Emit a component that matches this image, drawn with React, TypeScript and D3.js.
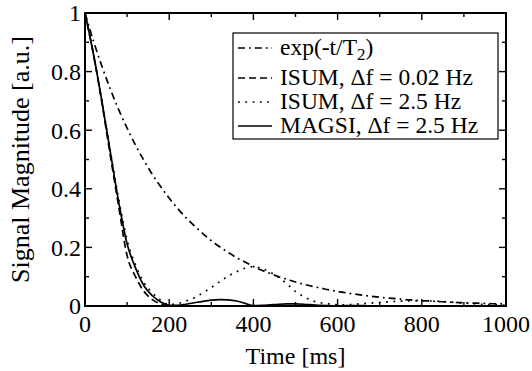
import * as d3 from 'd3'

// time grid [ms]
const timeMs = d3.range(0, 1001, 20)

// exp(-t/T2)
const expDecay = [
  1, 0.905, 0.819, 0.741, 0.67, 0.607, 0.549, 0.497, 0.449, 0.407,
  0.368, 0.333, 0.301, 0.273, 0.247, 0.223, 0.202, 0.183, 0.165, 0.15,
  0.135, 0.122, 0.111, 0.1, 0.091, 0.082, 0.074, 0.067, 0.061, 0.055,
  0.05, 0.045, 0.041, 0.037, 0.033, 0.03, 0.027, 0.025, 0.022, 0.02,
  0.018, 0.017, 0.015, 0.014, 0.012, 0.011, 0.01, 0.009, 0.008, 0.007, 0.007,
]

// ISUM, df = 0.02 Hz
const isumLow = [
  1, 0.86, 0.695, 0.515, 0.34, 0.172, 0.1, 0.05, 0.022, 0.007,
  0.001, 0, 0, 0, 0, 0, 0, 0, 0, 0,
  0, 0, 0, 0, 0, 0, 0, 0, 0, 0,
  0, 0, 0, 0, 0, 0, 0, 0, 0, 0,
  0, 0, 0, 0, 0, 0, 0, 0, 0, 0, 0,
]

// ISUM, df = 2.5 Hz
const isumHigh = [
  1, 0.86, 0.7, 0.53, 0.365, 0.225, 0.14, 0.08, 0.045, 0.02,
  0.005, 0.008, 0.017, 0.028, 0.045, 0.063, 0.083, 0.102, 0.117, 0.129,
  0.134, 0.128, 0.115, 0.098, 0.075, 0.05, 0.032, 0.018, 0.011, 0.007,
  0.004, 0.004, 0.006, 0.008, 0.01, 0.012, 0.014, 0.016, 0.017, 0.018,
  0.018, 0.017, 0.016, 0.014, 0.012, 0.01, 0.008, 0.006, 0.005, 0.004, 0.003,
]

// MAGSI, df = 2.5 Hz
const magsi = [
  1, 0.86, 0.7, 0.527, 0.355, 0.212, 0.13, 0.069, 0.035, 0.014,
  0.002, 0.002, 0.006, 0.011, 0.016, 0.02, 0.022, 0.021, 0.017, 0.009,
  0.001, 0.002, 0.004, 0.006, 0.007, 0.007, 0.006, 0.004, 0.002, 0.001,
  0, 0.001, 0.001, 0.001, 0, 0, 0, 0, 0, 0,
  0, 0, 0, 0, 0, 0, 0, 0, 0, 0, 0,
]

const xTicks = [0, 200, 400, 600, 800, 1000]
const yTicks = [0, 0.2, 0.4, 0.6, 0.8, 1]
const yTickLabels = ['0', '0.2', '0.4', '0.6', '0.8', '1']

const series = [
  { name: 'exp', values: expDecay, dash: '7,4,1.8,4' },
  { name: 'ISUM, \u0394f = 0.02 Hz', values: isumLow, dash: '7,4' },
  { name: 'ISUM, \u0394f = 2.5 Hz', values: isumHigh, dash: '1.8,5.5' },
  { name: 'MAGSI, \u0394f = 2.5 Hz', values: magsi, dash: 'none' },
]

const W = 532
const H = 371
const m = { left: 85, right: 26, top: 13, bottom: 65 }
const font = "'Liberation Serif', 'Times New Roman', Times, 'Nimbus Roman', serif"

export default function App() {
  const x = d3.scaleLinear().domain([0, 1000]).range([m.left, W - m.right])
  const y = d3.scaleLinear().domain([0, 1]).range([H - m.bottom, m.top])
  const [x0, x1] = x.range()
  const [y0, y1] = y.range()

  const line = d3
    .line<number>()
    .x((_, i) => x(timeMs[i]))
    .y(d => y(d))
    .curve(d3.curveMonotoneX)

  const xMinor = d3.range(100, 1000, 200)
  const yMinor = d3.range(0.1, 1, 0.2)

  const lx = 233
  const lw = 265
  const ly = 33
  const lh = 106
  const rowBase = [55, 85, 109, 133]

  return (
    <svg width={W} height={H} style={{ position: 'absolute', left: 0, top: 0, fontFamily: font }}>
      <rect width={W} height={H} fill="#fff" />
      <defs>
        <clipPath id="plot">
          <rect x={x0} y={y1} width={x1 - x0} height={y0 - y1} />
        </clipPath>
      </defs>

      <g clipPath="url(#plot)" fill="none" stroke="#000" strokeWidth={1.7}>
        {series.map(s => (
          <path key={s.name} d={line(s.values) || ''} strokeDasharray={s.dash} />
        ))}
      </g>

      {/* ticks on all four sides, pointing in */}
      <g stroke="#000" strokeWidth={1.4}>
        {xTicks.map(t => (
          <g key={'xt' + t}>
            <line x1={x(t)} x2={x(t)} y1={y0} y2={y0 - 7} />
            <line x1={x(t)} x2={x(t)} y1={y1} y2={y1 + 7} />
          </g>
        ))}
        {xMinor.map(t => (
          <g key={'xm' + t}>
            <line x1={x(t)} x2={x(t)} y1={y0} y2={y0 - 4} />
            <line x1={x(t)} x2={x(t)} y1={y1} y2={y1 + 4} />
          </g>
        ))}
        {yTicks.map(v => (
          <g key={'yt' + v}>
            <line x1={x0} x2={x0 + 7} y1={y(v)} y2={y(v)} />
            <line x1={x1} x2={x1 - 7} y1={y(v)} y2={y(v)} />
          </g>
        ))}
        {yMinor.map(v => (
          <g key={'ym' + v}>
            <line x1={x0} x2={x0 + 4} y1={y(v)} y2={y(v)} />
            <line x1={x1} x2={x1 - 4} y1={y(v)} y2={y(v)} />
          </g>
        ))}
      </g>

      <rect x={x0} y={y1} width={x1 - x0} height={y0 - y1} fill="none" stroke="#000" strokeWidth={2} />

      <g fontSize={24} fill="#000">
        {xTicks.map(t => (
          <text key={'xl' + t} x={x(t)} y={332} textAnchor="middle">
            {t}
          </text>
        ))}
        {yTicks.map((v, i) => (
          <text key={'yl' + v} x={x0 - 4} y={y(v)} dy="0.35em" textAnchor="end">
            {yTickLabels[i]}
          </text>
        ))}
        <text x={(x0 + x1) / 2} y={364} textAnchor="middle">
          Time [ms]
        </text>
        <text transform={`translate(29,${(y0 + y1) / 2}) rotate(-90)`} textAnchor="middle" fontSize={26}>
          Signal Magnitude [a.u.]
        </text>
      </g>

      {/* legend */}
      <rect x={lx} y={ly} width={lw} height={lh} fill="#fff" stroke="#000" strokeWidth={1.2} />
      <g fontSize={23.5}>
        {series.map((s, i) => (
          <g key={'lg' + s.name}>
            <line
              x1={lx + 5}
              x2={lx + 39}
              y1={rowBase[i] - 7}
              y2={rowBase[i] - 7}
              stroke="#000"
              strokeWidth={1.7}
              strokeDasharray={s.dash}
            />
            <text x={lx + 47} y={rowBase[i]}>
              {i === 0 ? (
                <>
                  exp(-t/T<tspan dy="5" fontSize={17}>2</tspan>
                  <tspan dy="-5">)</tspan>
                </>
              ) : (
                s.name
              )}
            </text>
          </g>
        ))}
      </g>
    </svg>
  )
}
